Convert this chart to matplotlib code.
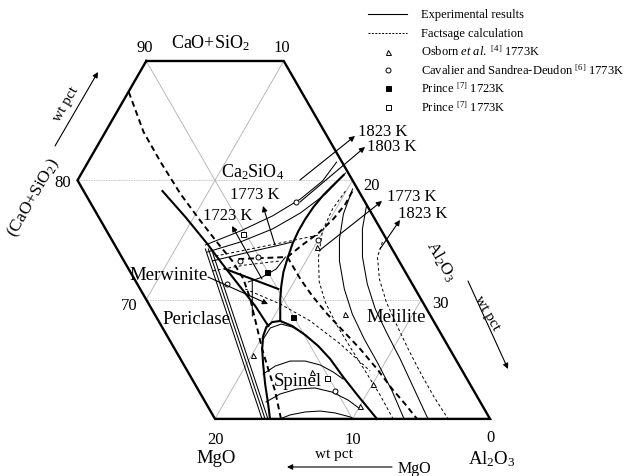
import numpy as np
import matplotlib
matplotlib.use("Agg")
import matplotlib.pyplot as plt

plt.rcParams["font.family"] = ["Liberation Serif", "DejaVu Serif"]
plt.rcParams["mathtext.fontset"] = "custom"
plt.rcParams["mathtext.rm"] = "Liberation Serif"
plt.rcParams["mathtext.it"] = "Liberation Serif:italic"

# ---------------- data: compositions as (MgO wt%, CaO+SiO2 wt%) ----------------
# Al2O3 = 100 - MgO - (CaO+SiO2)
frame = [(10, 90), (0, 90), (0, 60), (20, 60), (20, 80), (10, 90)]
grid_cs_lines = [[(20, 80), (0, 80)], [(20, 70), (0, 70)]]
grid_diag_lines = [[(10, 90), (10, 60)], [(0, 90), (20, 70)], [(0, 80), (20, 60)],
                   [(0, 70), (10, 60)]]

# experimental phase boundaries (thick solid)
exp_periclase = [(14.27, 79.10), (13.69, 76.92), (13.22, 74.66), (12.97, 72.98),
                 (12.63, 71.06), (12.34, 69.46), (12.23, 67.79)]
exp_merwinite = [(12.97, 72.57), (9.95, 70.89)]
exp_c2s_melilite = [(0.43, 80.44), (1.58, 79.61), (2.73, 78.77), (3.96, 77.76),
                    (5.05, 76.76), (6.06, 75.75), (7.04, 74.66), (8.04, 73.40),
                    (8.87, 72.31), (9.61, 71.14), (10.23, 70.05), (11.15, 68.21)]
exp_spinel_left = [(11.15, 68.21), (11.77, 68.12), (12.42, 67.70), (13.02, 66.95),
                   (13.64, 65.86), (14.20, 64.60), (14.89, 62.93), (15.51, 61.25),
                   (16.0, 60.0)]
exp_spinel_melilite = [(11.15, 68.21), (10.49, 67.79), (9.92, 67.03), (9.44, 66.11),
                       (9.11, 65.02), (8.92, 63.51), (8.63, 61.92), (8.22, 60.0)]

# FactSage phase boundaries (thick dashed)
fs_periclase = [(12.57, 87.40), (13.17, 84.05), (13.19, 81.53), (13.08, 78.85),
                (12.76, 76.59), (12.42, 74.66), (12.12, 73.24), (12.07, 71.73),
                (12.41, 70.05), (13.03, 67.95), (13.64, 65.86), (14.04, 64.18),
                (14.46, 62.34), (15.20, 60.0)]
fs_merwinite = [(11.60, 73.40), (7.95, 73.57)]
fs_c2s_melilite = [(7.95, 73.57), (6.36, 74.58), (4.68, 75.58), (3.01, 76.76),
                   (1.51, 78.01), (0.45, 79.10)]
fs_spinel_melilite = [(7.95, 73.57), (7.93, 71.73), (7.77, 70.30), (7.44, 68.79),
                      (6.99, 67.37), (6.51, 65.86), (6.12, 64.18), (5.86, 62.51),
                      (5.55, 61.25), (5.31, 60.0)]

# experimental isotherms (thin solid)
per_iso_1 = [(13.58, 74.24), (16.58, 60.0)]
per_iso_2 = [(13.36, 74.24), (16.36, 60.0)]
per_iso_3 = [(13.14, 74.24), (16.15, 60.0)]
c2s_iso_1 = [(13.41, 74.58), (10.28, 75.75), (7.32, 77.01), (4.57, 78.43),
             (2.21, 79.94), (0.39, 81.53)]
c2s_iso_2 = [(13.56, 73.99), (10.74, 74.83), (7.86, 75.92), (5.16, 77.26),
             (2.54, 78.85), (0.20, 80.61)]
c2s_iso_3 = [(13.57, 73.24), (10.84, 73.91), (8.36, 74.49), (6.96, 74.83)]
merw_iso_1 = [(11.84, 71.48), (10.61, 71.89), (9.26, 72.57), (8.09, 73.57)]
merw_iso_2 = [(11.51, 71.56), (12.97, 68.63)]
mel_iso_1 = [(0.36, 79.27), (2.07, 77.18), (3.41, 75.08), (4.33, 73.24), (5.15, 70.89),
             (5.62, 68.79), (5.80, 66.70), (5.83, 64.60), (5.95, 62.34), (6.25, 60.0)]
mel_iso_2 = [(0.06, 77.85), (1.32, 75.92), (2.49, 73.57), (3.27, 71.31), (3.74, 69.21),
             (3.91, 67.12), (4.02, 65.02), (4.25, 62.67), (4.51, 60.0)]
spinel_top = [(13.14, 66.70), (12.17, 67.62), (11.21, 67.95), (10.53, 67.70), (9.99, 67.20)]
spinel_iso_1 = [(14.62, 63.76), (13.40, 64.43), (12.11, 64.85), (11.02, 64.85),
                (10.09, 64.52), (9.44, 63.93), (9.01, 63.34)]
spinel_iso_2 = [(15.58, 61.42), (14.22, 62.09), (12.77, 62.51), (11.43, 62.59),
                (10.36, 62.25), (9.53, 61.58), (9.03, 60.83)]
spinel_iso_3 = [(15.27, 60.0), (14.38, 60.33), (13.16, 60.58), (12.03, 60.66),
                (11.02, 60.50), (10.10, 60.17), (9.89, 60.0)]

# FactSage isotherms (thin dashed)
c2s_fs_1 = [(13.14, 73.65), (10.31, 74.24), (7.47, 74.83), (4.77, 75.41)]
c2s_fs_2 = [(13.99, 72.40), (11.35, 72.90), (8.63, 73.24)]
mel_fs_1 = [(0.96, 79.10), (2.66, 77.59), (4.31, 75.75), (5.69, 73.57), (6.68, 71.48),
            (7.08, 69.80), (7.21, 67.95), (7.16, 66.03), (7.07, 64.02), (6.99, 62.0),
            (7.05, 60.0)]
mel_fs_2 = [(0.41, 74.83), (1.40, 73.57), (2.18, 71.73), (2.64, 69.80), (2.84, 67.95),
            (3.02, 65.86), (3.13, 63.76), (3.15, 61.84), (3.05, 60.0)]
cross_fs = [(12.35, 70.89), (10.44, 69.63), (8.97, 68.21), (7.75, 66.28), (6.71, 64.02)]

# literature points
osborn_mgo = [6.13, 7.04, 8.91, 10.97, 14.55, 5.35]
osborn_cs = [68.79, 62.93, 61.08, 63.93, 65.36, 74.41]
cavalier_mgo = [5.05, 10.06, 11.53, 13.45, 10.09, 4.98]
cavalier_cs = [78.18, 73.57, 73.24, 71.31, 62.34, 75.00]
prince1723_mgo = [10.04, 10.04]
prince1723_cs = [72.31, 68.54]
prince1773_mgo = [10.18, 10.13]
prince1773_cs = [75.50, 63.43]

S3 = np.sqrt(3) / 2


def tern(mgo, cs):
    mgo = np.asarray(mgo, float)
    cs = np.asarray(cs, float)
    al = 100 - mgo - cs
    return al + cs / 2, cs * S3


def curve(pts, **kw):
    m, c = zip(*pts)
    x, y = tern(m, c)
    ax.plot(x, y, **kw)


W, H = 628, 477
fig = plt.figure(figsize=(W / 100, H / 100), dpi=100)
ax = fig.add_axes([0, 0, 1, 1])
ax.set_xlim(34.364, 80.036)
ax.set_ylim(55.214 * S3, 95.197 * S3)
ax.axis("off")


def P(x, y):
    return (x / W, 1 - y / H)


# grid
gkw = dict(color="#b0b0b0", lw=0.6, zorder=1)
for g in grid_cs_lines:
    curve(g, ls=(0, (1, 1)), **gkw)
for g in grid_diag_lines:
    curve(g, **gkw)

# frame
curve(frame, color="k", lw=1.7, solid_joinstyle="miter", zorder=5)

thick = dict(color="k", lw=1.5, zorder=4)
thin = dict(color="k", lw=0.75, zorder=3)
thickd = dict(color="k", lw=1.4, ls=(0, (3, 2)), zorder=4)
thind = dict(color="k", lw=0.7, ls=(0, (3, 2.5)), zorder=3)

for c in [exp_periclase, exp_merwinite, exp_c2s_melilite, exp_spinel_left, exp_spinel_melilite]:
    curve(c, **thick)
for c in [fs_periclase, fs_merwinite, fs_c2s_melilite, fs_spinel_melilite]:
    curve(c, **thickd)
for c in [per_iso_1, per_iso_2, per_iso_3, c2s_iso_1, c2s_iso_2, c2s_iso_3, merw_iso_1,
          merw_iso_2, mel_iso_1, mel_iso_2, spinel_top, spinel_iso_1, spinel_iso_2, spinel_iso_3]:
    curve(c, **thin)
for c in [c2s_fs_1, c2s_fs_2, mel_fs_1, mel_fs_2, cross_fs]:
    curve(c, **thind)

mk = dict(ls="none", color="k", ms=3.6, mew=0.7, zorder=6)
x, y = tern(osborn_mgo, osborn_cs)
ax.plot(x, y, marker="^", mfc="white", **mk)
x, y = tern(cavalier_mgo, cavalier_cs)
ax.plot(x, y, marker="o", mfc="white", **mk)
x, y = tern(prince1723_mgo, prince1723_cs)
ax.plot(x, y, marker="s", mfc="k", **mk)
x, y = tern(prince1773_mgo, prince1773_cs)
ax.plot(x, y, marker="s", mfc="white", **mk)


# ---------------- text ----------------
def T(x, y, s, size=12, **kw):
    ax.text(*P(x, y), s, transform=ax.transAxes, fontsize=size, ha=kw.pop("ha", "center"),
            va=kw.pop("va", "center"), **kw)


def A(x0, y0, x1, y1):
    ax.annotate("", xy=P(x1, y1), xytext=P(x0, y0), xycoords="axes fraction",
                textcoords="axes fraction",
                arrowprops=dict(arrowstyle="-|>", lw=0.8, color="k", mutation_scale=8,
                                shrinkA=0, shrinkB=0), zorder=7)


# axis labels
T(210, 43, "CaO+SiO$_2$", 13)
T(145, 48, "90", 12)
T(282, 48, "10", 12)
T(63, 183, "80", 12)
T(129, 306, "70", 12)
T(34, 198, "(CaO+SiO$_2$)", 12.5, rotation=60)
T(66, 104, "wt pct", 11, rotation=60)
A(55, 147, 98, 73)
T(372, 186, "20", 12)
T(440, 304, "30", 12)
T(441, 262, "Al$_2$O$_3$", 12.5, rotation=-60)
T(487, 313, "wt pct", 11, rotation=-60)
A(468, 282, 508, 370)
T(215, 440, "20", 12)
T(216, 459, "MgO", 13.5)
T(353, 440, "10", 12)
T(490, 438, "0", 12)
T(492, 459, "Al$_2$O$_3$", 13.5)
T(334, 455, "wt pct", 11)
A(392, 468, 287, 468)
T(414, 469, "MgO", 11.5)

# phase labels
T(253, 172, "Ca$_2$SiO$_4$", 13)
T(255, 195, "1773 K", 12)
T(228, 216, "1723 K", 12)
T(169, 276, "Merwinite", 13.5)
T(196, 320, "Periclase", 13.5)
T(298, 381, "Spinel", 13.5)
T(396, 317, "Melilite", 13.5)
T(383, 132, "1823 K", 12)
T(392, 147, "1803 K", 12)
T(412, 197, "1773 K", 12)
T(423, 214, "1823 K", 12)

A(300, 181, 355, 137)
A(300, 203, 365, 148)
A(320, 251, 382, 202)
A(380, 250, 400, 221)
A(275, 246, 263, 207)
A(262, 280, 232, 227)
A(208, 278, 268, 305)

# legend
lx0, lx1, tx = 368, 407, 421
ax.plot([lx0 / W, lx1 / W], [1 - 15 / H] * 2, transform=ax.transAxes, color="k", lw=0.8)
ax.plot([lx0 / W, lx1 / W], [1 - 34 / H] * 2, transform=ax.transAxes, color="k", lw=0.7,
        ls=(0, (2, 1.5)))
ax.plot([388 / W], [1 - 53 / H], transform=ax.transAxes, marker="^", mfc="white", **mk)
ax.plot([388 / W], [1 - 71 / H], transform=ax.transAxes, marker="o", mfc="white", **mk)
ax.plot([388 / W], [1 - 89 / H], transform=ax.transAxes, marker="s", mfc="k", **mk)
ax.plot([388 / W], [1 - 108 / H], transform=ax.transAxes, marker="s", mfc="white", **mk)
LF = 9
T(tx, 15, "Experimental results", LF, ha="left")
T(tx, 34, "Factsage calculation", LF, ha="left")
T(tx, 52, r"Osborn $\mathit{et\ al.}$ $^{[4]}$ 1773K", LF, ha="left")
T(tx, 71, r"Cavalier and Sandrea-Deudon $^{[6]}$ 1773K", LF, ha="left")
T(tx, 89, r"Prince $^{[7]}$ 1723K", LF, ha="left")
T(tx, 108, r"Prince $^{[7]}$ 1773K", LF, ha="left")

fig.savefig("out.png", dpi=100, facecolor="white")
